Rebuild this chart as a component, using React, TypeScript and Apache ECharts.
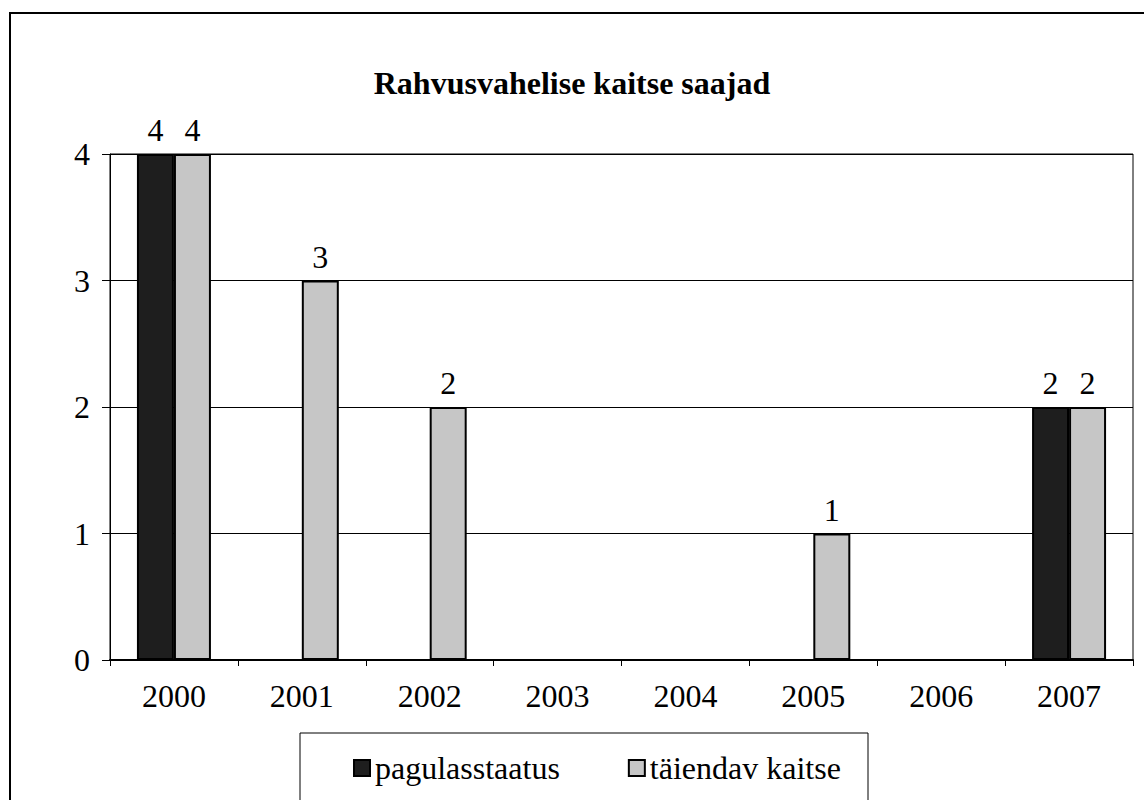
import React, { useEffect, useRef } from "react";
import * as echarts from "echarts";

const categories = ["2000", "2001", "2002", "2003", "2004", "2005", "2006", "2007"];
const pagulasstaatus = [4, 0, 0, 0, 0, 0, 0, 2];
const taiendavKaitse = [4, 3, 2, 0, 0, 1, 0, 2];
const yTicks = [0, 1, 2, 3, 4];

const FONT = "Liberation Serif";

export default function App() {
  const ref = useRef<HTMLDivElement>(null);
  useEffect(() => {
    if (!ref.current) return;
    const chart = echarts.init(ref.current, null, { renderer: "svg" });
    const labelCfg = {
      show: true,
      position: "top",
      distance: 8,
      color: "#000",
      fontFamily: FONT,
      fontSize: 32,
      formatter: (p: any) => (p.value ? String(p.value) : ""),
    };
    chart.setOption({
      animation: false,
      backgroundColor: "#fff",
      textStyle: { fontFamily: FONT },
      title: {
        text: "Rahvusvahelise kaitse saajad",
        left: "center",
        top: 62,
        textStyle: { fontFamily: FONT, fontSize: 32, fontWeight: "bold", color: "#000" },
      },
      grid: {
        left: 110,
        right: 11,
        top: 154,
        bottom: 140,
        show: true,
        borderColor: "#000",
        borderWidth: 1,
        backgroundColor: "transparent",
      },
      legend: {
        left: 348,
        top: 747,
        icon: "rect",
        itemWidth: 16,
        itemHeight: 16,
        itemGap: 68,
        textStyle: { fontFamily: FONT, fontSize: 32, color: "#000" },
        data: ["pagulasstaatus", "täiendav kaitse"],
      },
      xAxis: {
        type: "category",
        data: categories,
        axisLine: { show: true, lineStyle: { color: "#000", width: 2 } },
        axisTick: { show: true, length: 6, lineStyle: { color: "#000", width: 1 } },
        axisLabel: { fontFamily: FONT, fontSize: 32, color: "#000", margin: 20 },
      },
      yAxis: {
        type: "value",
        min: yTicks[0],
        max: yTicks[yTicks.length - 1],
        interval: 1,
        axisLine: { show: true, lineStyle: { color: "#000", width: 1 } },
        axisTick: { show: true, length: 8, lineStyle: { color: "#000" } },
        axisLabel: { fontFamily: FONT, fontSize: 32, color: "#000", margin: 20 },
        splitLine: { show: true, lineStyle: { color: "#000", width: 1 } },
      },
      series: [
        {
          name: "pagulasstaatus",
          type: "bar",
          data: pagulasstaatus,
          barWidth: 37,
          barGap: "0%",
          itemStyle: { color: "#1e1e1e", borderColor: "#000", borderWidth: 2 },
          label: labelCfg,
        },
        {
          name: "täiendav kaitse",
          type: "bar",
          data: taiendavKaitse,
          barWidth: 37,
          barGap: "0%",
          itemStyle: { color: "#c6c6c6", borderColor: "#000", borderWidth: 2 },
          label: labelCfg,
        },
      ],
      graphic: [
        {
          type: "rect",
          shape: { x: 10, y: 13, width: 1200, height: 900 },
          style: { fill: "none", stroke: "#000", lineWidth: 2 },
          silent: true,
        },
        {
          type: "rect",
          shape: { x: 300, y: 733, width: 568, height: 120 },
          style: { fill: "none", stroke: "#000", lineWidth: 1 },
          silent: true,
        },
      ],
    });
    return () => chart.dispose();
  }, []);
  return (
    <div
      ref={ref}
      style={{ position: "fixed", left: 0, top: 0, width: 1144, height: 800 }}
    />
  );
}
